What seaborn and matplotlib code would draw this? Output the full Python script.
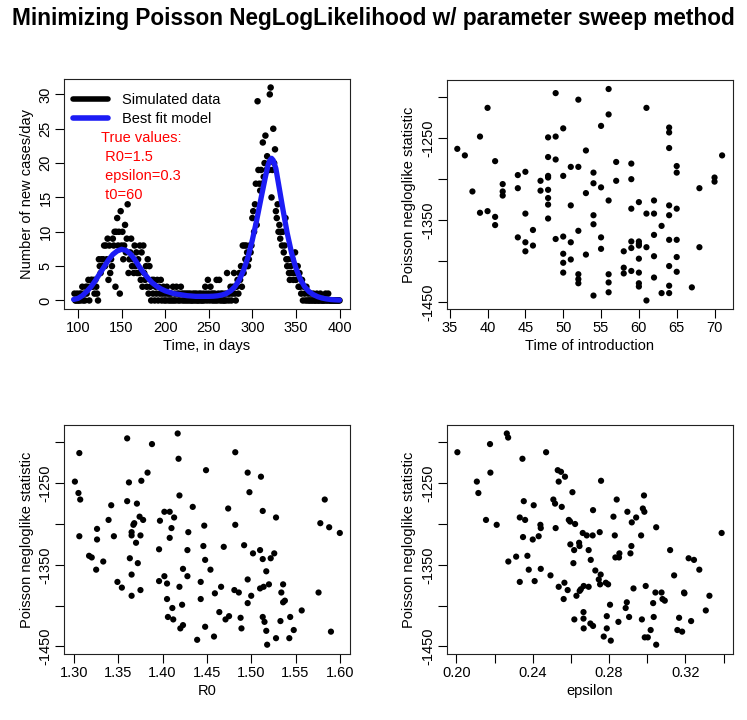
import numpy as np
import pandas as pd
import matplotlib
matplotlib.use("Agg")
import matplotlib.pyplot as plt
import seaborn as sns

# === DADOS ===
# serie simulada (casos por dia, dias 96..400)
days = list(range(96, 401))
cases = [
    1, 0, 0, 1, 0, 0, 1, 0, 1, 2,
    0, 1, 0, 2, 1, 2, 3, 0, 2, 3,
    3, 2, 3, 1, 3, 2, 1, 0, 6, 5,
    4, 6, 5, 6, 8, 5, 8, 6, 9, 3,
    8, 4, 6, 5, 9, 8, 10, 2, 10, 12,
    8, 10, 1, 13, 8, 10, 6, 8, 11, 7,
    9, 14, 4, 6, 7, 9, 5, 6, 4, 8,
    5, 7, 4, 6, 4, 8, 3, 7, 2, 8,
    4, 3, 5, 2, 6, 1, 5, 2, 0, 3,
    1, 3, 0, 2, 1, 3, 0, 2, 1, 3,
    0, 1, 2, 0, 1, 0, 2, 1, 0, 1,
    0, 1, 0, 2, 0, 1, 0, 2, 1, 0,
    1, 0, 2, 1, 0, 1, 0, 1, 0, 1,
    0, 1, 0, 1, 0, 0, 1, 0, 1, 0,
    1, 0, 0, 1, 0, 1, 0, 0, 1, 0,
    2, 1, 0, 3, 1, 0, 2, 1, 0, 1,
    0, 1, 0, 3, 0, 1, 3, 0, 1, 0,
    1, 0, 0, 1, 0, 4, 1, 0, 1, 2,
    0, 1, 2, 4, 1, 0, 2, 3, 1, 4,
    3, 5, 2, 8, 4, 8, 6, 8, 7, 5,
    6, 8, 7, 8, 12, 13, 10, 14, 17, 11,
    29, 19, 17, 16, 19, 17, 23, 18, 20, 24,
    19, 21, 19, 19, 30, 31, 15, 19, 25, 20,
    22, 13, 12, 14, 10, 11, 9, 10, 8, 10,
    7, 8, 12, 6, 5, 6, 4, 3, 5, 4,
    6, 3, 4, 7, 3, 4, 5, 2, 4, 2,
    1, 3, 0, 2, 1, 0, 2, 0, 1, 0,
    0, 1, 0, 0, 1, 0, 0, 0, 1, 0,
    0, 0, 1, 0, 0, 0, 0, 0, 1, 0,
    0, 1, 0, 0, 0, 0, 0, 0, 0, 0,
    0, 0, 0, 0, 0,
]

# modelo ajustado
fit_days = [95, 100, 105, 110, 115, 120, 125, 130, 135, 140, 145, 150, 155, 160,
            165, 170, 175, 180, 185, 190, 195, 200, 205, 210, 215, 220, 225, 230,
            235, 240, 245, 250, 255, 260, 265, 270, 275, 280, 285, 290, 295, 300,
            305, 310, 315, 318, 320, 322, 324, 327, 330, 335, 340, 345, 350, 355,
            360, 365, 370, 375, 380, 385, 390, 395, 400]
fit_cases = [0.15, 0.3, 0.7, 1.3, 2.0, 2.9, 3.9, 4.9, 5.9, 6.7, 7.2, 7.45, 7.3, 6.8,
             6.0, 5.0, 4.1, 3.3, 2.6, 2.1, 1.7, 1.4, 1.2, 1.0, 0.9, 0.8, 0.7, 0.65,
             0.6, 0.6, 0.6, 0.6, 0.62, 0.68, 0.8, 1.0, 1.4, 2.0, 3.0, 4.4, 6.3, 8.8,
             11.7, 14.9, 18.0, 19.7, 20.4, 20.7, 20.4, 19.2, 17.0, 13.3, 9.8, 6.9,
             4.7, 3.1, 2.0, 1.3, 0.85, 0.55, 0.35, 0.22, 0.14, 0.09, 0.06]

# varredura: tempo de introducao
t0_vals = [36, 37, 38, 39, 39, 40, 40, 41, 41, 41, 42, 42, 42, 44, 44, 44, 45, 45,
           45, 45, 46, 46, 47, 47, 48, 48, 48, 48, 48, 48, 48, 48, 49, 49, 49, 49,
           50, 50, 50, 50, 50, 50, 51, 51, 51, 51, 52, 52, 52, 52, 52, 52, 53, 53,
           53, 54, 54, 54, 54, 54, 55, 55, 55, 55, 56, 56, 56, 56, 56, 56, 57, 57,
           58, 58, 58, 59, 59, 59, 59, 59, 59, 60, 60, 60, 60, 60, 60, 60, 60, 61,
           61, 61, 61, 62, 62, 62, 62, 62, 63, 63, 64, 64, 64, 64, 64, 64, 64, 64,
           64, 65, 65, 65, 65, 65, 65, 67, 68, 68, 70, 70, 71]
nll_t0 = [-1263, -1271, -1315, -1248, -1341, -1213, -1339, -1278, -1346, -1356,
          -1306, -1315, -1320, -1295, -1311, -1371, -1291, -1342, -1377, -1388,
          -1362, -1381, -1302, -1314, -1249, -1273, -1296, -1298, -1313, -1323,
          -1331, -1348, -1195, -1248, -1276, -1373, -1238, -1296, -1370, -1391,
          -1402, -1414, -1285, -1332, -1377, -1398, -1203, -1285, -1363, -1416,
          -1422, -1427, -1265, -1317, -1392, -1292, -1305, -1344, -1355, -1442,
          -1235, -1310, -1371, -1385, -1190, -1221, -1326, -1416, -1426, -1438,
          -1279, -1302, -1388, -1408, -1415, -1281, -1300, -1336, -1376, -1384,
          -1412, -1328, -1376, -1379, -1381, -1397, -1414, -1427, -1431, -1213,
          -1342, -1383, -1448, -1326, -1342, -1368, -1394, -1420, -1357, -1439,
          -1237, -1243, -1262, -1332, -1344, -1374, -1406, -1430, -1439, -1284,
          -1292, -1336, -1374, -1395, -1413, -1432, -1311, -1383, -1298, -1303,
          -1271]

# varredura: R0
r0_vals = [1.301, 1.306, 1.305, 1.307, 1.306, 1.317, 1.320, 1.326, 1.326, 1.325,
           1.333, 1.339, 1.342, 1.345, 1.349, 1.354, 1.360, 1.360, 1.362, 1.363,
           1.365, 1.365, 1.365, 1.365, 1.367, 1.368, 1.370, 1.371, 1.372, 1.374,
           1.375, 1.375, 1.376, 1.378, 1.383, 1.388, 1.396, 1.396, 1.397, 1.402,
           1.402, 1.405, 1.405, 1.406, 1.408, 1.408, 1.410, 1.411, 1.412, 1.413,
           1.417, 1.418, 1.419, 1.419, 1.420, 1.422, 1.423, 1.423, 1.428, 1.428,
           1.429, 1.434, 1.439, 1.443, 1.443, 1.446, 1.447, 1.448, 1.448, 1.449,
           1.454, 1.458, 1.459, 1.464, 1.466, 1.469, 1.471, 1.474, 1.475, 1.481,
           1.482, 1.482, 1.486, 1.488, 1.489, 1.492, 1.496, 1.496, 1.496, 1.498,
           1.500, 1.502, 1.510, 1.511, 1.510, 1.513, 1.513, 1.513, 1.514, 1.515,
           1.517, 1.517, 1.518, 1.520, 1.522, 1.526, 1.528, 1.528, 1.533, 1.534,
           1.536, 1.536, 1.538, 1.543, 1.544, 1.548, 1.557, 1.576, 1.578, 1.583,
           1.588, 1.590, 1.600]
nll_r0 = [-1248, -1213, -1262, -1270, -1315, -1339, -1341, -1306, -1319, -1356,
          -1346, -1295, -1277, -1315, -1371, -1378, -1195, -1272, -1249, -1342,
          -1310, -1314, -1362, -1388, -1301, -1299, -1323, -1275, -1348, -1291,
          -1314, -1381, -1247, -1295, -1237, -1202, -1331, -1370, -1296, -1364,
          -1285, -1373, -1392, -1414, -1285, -1317, -1305, -1403, -1417, -1292,
          -1189, -1220, -1265, -1377, -1428, -1399, -1355, -1424, -1332, -1364,
          -1310, -1279, -1442, -1371, -1392, -1327, -1302, -1344, -1426, -1234,
          -1356, -1438, -1385, -1408, -1377, -1328, -1417, -1281, -1413, -1381,
          -1212, -1301, -1384, -1415, -1428, -1326, -1237, -1368, -1397, -1261,
          -1388, -1336, -1332, -1242, -1379, -1343, -1414, -1284, -1377, -1420,
          -1431, -1358, -1448, -1374, -1342, -1336, -1292, -1440, -1419, -1384,
          -1374, -1396, -1394, -1440, -1414, -1430, -1406, -1384, -1299, -1270,
          -1304, -1432, -1311]

# varredura: epsilon
eps_vals = [0.2005, 0.2107, 0.2115, 0.2155, 0.2176, 0.2178, 0.2211, 0.2264, 0.2271,
            0.2272, 0.2313, 0.2332, 0.2332, 0.2346, 0.2349, 0.2353, 0.2360, 0.2372,
            0.2379, 0.2400, 0.2405, 0.2410, 0.2431, 0.2440, 0.2442, 0.2442, 0.2470,
            0.2493, 0.2508, 0.2517, 0.2520, 0.2531, 0.2536, 0.2536, 0.2548, 0.2552,
            0.2562, 0.2566, 0.2569, 0.2583, 0.2589, 0.2596, 0.2597, 0.2608, 0.2613,
            0.2617, 0.2618, 0.2622, 0.2629, 0.2643, 0.2645, 0.2646, 0.2652, 0.2662,
            0.2666, 0.2666, 0.2667, 0.2667, 0.2683, 0.2693, 0.2693, 0.2704, 0.2702,
            0.2714, 0.2716, 0.2716, 0.2728, 0.2746, 0.2751, 0.2753, 0.2756, 0.2758,
            0.2772, 0.2783, 0.2788, 0.2788, 0.2795, 0.2805, 0.2809, 0.2823, 0.2830,
            0.2833, 0.2840, 0.2849, 0.2852, 0.2854, 0.2887, 0.2893, 0.2896, 0.2905,
            0.2912, 0.2917, 0.2919, 0.2928, 0.2942, 0.2968, 0.2972, 0.2977, 0.2983,
            0.2985, 0.2987, 0.2992, 0.3003, 0.3018, 0.3031, 0.3034, 0.3043, 0.3047,
            0.3047, 0.3075, 0.3080, 0.3092, 0.3120, 0.3141, 0.3158, 0.3167, 0.3183,
            0.3193, 0.3195, 0.3217, 0.3230, 0.3245, 0.3273, 0.3307, 0.3326, 0.3390]
nll_eps = [-1212, -1248, -1262, -1295, -1202, -1237, -1301, -1189, -1194, -1346,
           -1340, -1292, -1371, -1220, -1316, -1272, -1295, -1339, -1356, -1319,
           -1277, -1370, -1315, -1301, -1305, -1355, -1212, -1363, -1270, -1275,
           -1305, -1234, -1377, -1248, -1236, -1279, -1392, -1372, -1242, -1381,
           -1295, -1297, -1325, -1261, -1348, -1332, -1417, -1300, -1388, -1323,
           -1327, -1382, -1380, -1311, -1408, -1416, -1428, -1376, -1314, -1377,
           -1332, -1344, -1422, -1314, -1425, -1283, -1357, -1368, -1310, -1374,
           -1362, -1247, -1438, -1372, -1413, -1428, -1374, -1399, -1443, -1291,
           -1314, -1341, -1270, -1420, -1341, -1336, -1403, -1396, -1285, -1414,
           -1336, -1327, -1298, -1379, -1292, -1314, -1417, -1281, -1265, -1285,
           -1439, -1376, -1439, -1430, -1397, -1414, -1384, -1304, -1448, -1384,
           -1392, -1394, -1332, -1363, -1430, -1415, -1432, -1384, -1385, -1342,
           -1419, -1344, -1356, -1406, -1388, -1311]

df_sim = pd.DataFrame({"dia": days, "casos": cases})
df_fit = pd.DataFrame({"dia": fit_days, "casos": fit_cases})
df_t0 = pd.DataFrame({"x": t0_vals, "nll": nll_t0})
df_r0 = pd.DataFrame({"x": r0_vals, "nll": nll_r0})
df_eps = pd.DataFrame({"x": eps_vals, "nll": nll_eps})

# === ESTILO ===
sns.set_style("white")
plt.rcParams["font.family"] = ["Liberation Sans", "DejaVu Sans"]
plt.rcParams["font.size"] = 10.5
plt.rcParams["text.color"] = "black"
plt.rcParams["axes.labelcolor"] = "black"
plt.rcParams["xtick.color"] = "black"
plt.rcParams["ytick.color"] = "black"
plt.rcParams["xtick.direction"] = "out"
plt.rcParams["ytick.direction"] = "out"

BLUE = "#1c1cf5"

fig = plt.figure(figsize=(7.47, 7.2), dpi=100)
W, H = 747.0, 720.0


def add_panel(x0, x1, y0, y1):
    return fig.add_axes([x0 / W, 1 - y1 / H, (x1 - x0) / W, (y1 - y0) / H])


def r_style(ax, xticks, yticks, xlabels=None, ylabels=None):
    # caixa estilo R, ticks para fora
    for s in ax.spines.values():
        s.set_visible(True)
        s.set_linewidth(0.8)
        s.set_color("#222222")
    ax.set_xticks(xticks)
    ax.set_yticks(yticks)
    if xlabels is not None:
        ax.set_xticklabels(xlabels)
    if ylabels is not None:
        ax.set_yticklabels(ylabels)
    ax.tick_params(axis="both", bottom=True, left=True, length=6.3, width=0.8,
                   color="black", pad=2, labelsize=10.5)
    plt.setp(ax.get_yticklabels(), rotation=90, va="center")


# 1) serie temporal
ax1 = add_panel(64, 350, 79, 309)
sns.scatterplot(data=df_sim, x="dia", y="casos", ax=ax1, color="black", s=22,
                edgecolor="none", legend=False)
sns.lineplot(data=df_fit, x="dia", y="casos", ax=ax1, color=BLUE, lw=3.8)
ax1.set_xlim(84, 412)
ax1.set_ylim(-1.24, 32.24)
r_style(ax1, [100, 150, 200, 250, 300, 350, 400], [0, 5, 10, 15, 20, 25, 30])
ax1.set_xlabel("Time, in days", labelpad=3)
ax1.set_ylabel("Number of new cases/day", labelpad=3.5)
ax1.plot([], [], color="black", lw=4, label="Simulated data")
ax1.plot([], [], color=BLUE, lw=4, label="Best fit model")
ax1.legend(loc="upper left", frameon=False, fontsize=10.5, handlelength=2.4,
           borderaxespad=0.2, handletextpad=1.0, labelspacing=0.3,
           bbox_to_anchor=(0.0, 0.975))
ax1.text(0.13, 0.772, "True values:\n R0=1.5\n epsilon=0.3\n t0=60",
         transform=ax1.transAxes, color="red", fontsize=10.5, va="top",
         ha="left", linespacing=1.45)

# 2) tempo de introducao
ax2 = add_panel(446.7, 732.7, 80, 309)
sns.scatterplot(data=df_t0, x="x", y="nll", ax=ax2, color="black", s=20,
                edgecolor="none", legend=False)
ax2.set_xlim(34.6, 72.4)
ax2.set_ylim(-1458.4, -1179)
r_style(ax2, [35, 40, 45, 50, 55, 60, 65, 70],
        [-1450, -1400, -1350, -1300, -1250, -1200],
        ylabels=["-1450", "", "-1350", "", "-1250", ""])
ax2.set_xlabel("Time of introduction", labelpad=3)
ax2.set_ylabel("Poisson negloglike statistic", labelpad=3.5)

# 3) R0
ax3 = add_panel(64, 350, 425, 654)
sns.scatterplot(data=df_r0, x="x", y="nll", ax=ax3, color="black", s=20,
                edgecolor="none", legend=False)
ax3.set_xlim(1.2887, 1.6115)
ax3.set_ylim(-1459.4, -1178.6)
r_style(ax3, [1.30, 1.35, 1.40, 1.45, 1.50, 1.55, 1.60],
        [-1450, -1400, -1350, -1300, -1250, -1200],
        xlabels=["1.30", "1.35", "1.40", "1.45", "1.50", "1.55", "1.60"],
        ylabels=["-1450", "", "-1350", "", "-1250", ""])
ax3.set_xlabel("R0", labelpad=3)
ax3.set_ylabel("Poisson negloglike statistic", labelpad=3.5)

# 4) epsilon
ax4 = add_panel(446.7, 732.7, 425, 654)
sns.scatterplot(data=df_eps, x="x", y="nll", ax=ax4, color="black", s=20,
                edgecolor="none", legend=False)
ax4.set_xlim(0.1949, 0.3448)
ax4.set_ylim(-1459.4, -1178.6)
r_style(ax4, [0.20, 0.22, 0.24, 0.26, 0.28, 0.30, 0.32, 0.34],
        [-1450, -1400, -1350, -1300, -1250, -1200],
        xlabels=["0.20", "", "0.24", "", "0.28", "", "0.32", ""],
        ylabels=["-1450", "", "-1350", "", "-1250", ""])
ax4.set_xlabel("epsilon", labelpad=3)
ax4.set_ylabel("Poisson negloglike statistic", labelpad=3.5)

fig.suptitle("Minimizing Poisson NegLogLikelihood w/ parameter sweep method",
             x=0.5, y=0.99, fontsize=16.3, fontweight="bold", color="black")

fig.savefig("out.png", dpi=100)
